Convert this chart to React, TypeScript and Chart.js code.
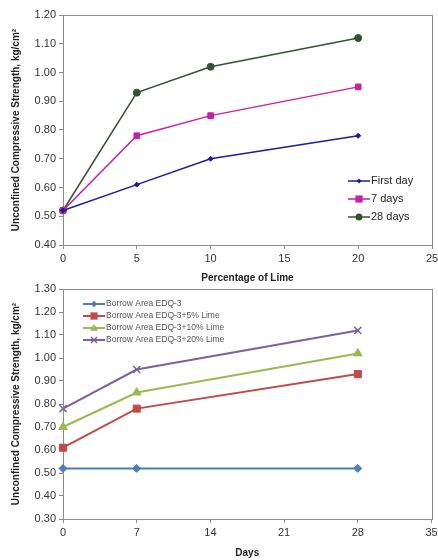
import React, { useEffect, useRef } from "react";
import { Chart, registerables } from "chart.js";
Chart.register(...registerables);

// Top chart data
const limePct = [0, 5, 10, 20];
const firstDay = [0.52, 0.61, 0.7, 0.78];
const sevenDays = [0.52, 0.78, 0.85, 0.95];
const twentyEightDays = [0.52, 0.93, 1.02, 1.12];
const topLabels = ["First day", "7 days", "28 days"];

// Bottom chart data
const days = [0, 7, 28];
const edq3 = [0.52, 0.52, 0.52];
const edq3Lime5 = [0.61, 0.78, 0.93];
const edq3Lime10 = [0.7, 0.85, 1.02];
const edq3Lime20 = [0.78, 0.95, 1.12];
const bottomLabels = [
  "Borrow Area EDQ-3",
  "Borrow Area EDQ-3+5% Lime",
  "Borrow Area EDQ-3+10% Lime",
  "Borrow Area EDQ-3+20% Lime",
];

const FONT = "'Liberation Sans', Arial, sans-serif";
const YTITLE = "Unconfined Compressive Strength, kg/cm\u00B2";

const pts = (xs: number[], ys: number[]) => xs.map((x, i) => ({ x, y: ys[i] }));

const borderPlugin = {
  id: "plotBorder",
  beforeDatasetsDraw(chart: any) {
    const { ctx, chartArea: a } = chart;
    ctx.save();
    ctx.strokeStyle = "#8c8c8c";
    ctx.lineWidth = 1;
    ctx.strokeRect(Math.round(a.left) + 0.5, Math.round(a.top) + 0.5, Math.round(a.right - a.left), Math.round(a.bottom - a.top));
    ctx.restore();
  },
};

function drawMarker(ctx: CanvasRenderingContext2D, style: string, x: number, y: number, r: number, color: string) {
  ctx.save();
  ctx.fillStyle = color;
  ctx.strokeStyle = color;
  ctx.lineWidth = 1.5;
  ctx.beginPath();
  if (style === "rectRot") {
    ctx.moveTo(x, y - r);
    ctx.lineTo(x + r, y);
    ctx.lineTo(x, y + r);
    ctx.lineTo(x - r, y);
    ctx.closePath();
    ctx.fill();
  } else if (style === "rect") {
    const s = r * 0.9;
    ctx.rect(x - s, y - s, 2 * s, 2 * s);
    ctx.fill();
  } else if (style === "circle") {
    ctx.arc(x, y, r, 0, Math.PI * 2);
    ctx.fill();
  } else if (style === "triangle") {
    ctx.moveTo(x, y - r);
    ctx.lineTo(x + r, y + r * 0.7);
    ctx.lineTo(x - r, y + r * 0.7);
    ctx.closePath();
    ctx.fill();
  } else if (style === "crossRot") {
    const s = r * 0.75;
    ctx.moveTo(x - s, y - s);
    ctx.lineTo(x + s, y + s);
    ctx.moveTo(x + s, y - s);
    ctx.lineTo(x - s, y + s);
    ctx.stroke();
  }
  ctx.restore();
}

function makeLegendPlugin(cfg: { x: number; y: number; dy: number; lineLen: number; font: string; color: string; textGap: number; markerScale: number }) {
  return {
    id: "customLegend",
    afterDraw(chart: any) {
      const { ctx } = chart;
      ctx.save();
      chart.data.datasets.forEach((ds: any, i: number) => {
        const y = cfg.y + i * cfg.dy;
        ctx.strokeStyle = ds.borderColor;
        ctx.lineWidth = ds.borderWidth;
        ctx.beginPath();
        ctx.moveTo(cfg.x, y);
        ctx.lineTo(cfg.x + cfg.lineLen, y);
        ctx.stroke();
        drawMarker(ctx, ds.pointStyle, cfg.x + cfg.lineLen / 2, y, ds.pointRadius * cfg.markerScale, ds.pointBackgroundColor);
        ctx.fillStyle = cfg.color;
        ctx.font = cfg.font;
        ctx.textBaseline = "middle";
        ctx.textAlign = "left";
        ctx.fillText(ds.label, cfg.x + cfg.lineLen + cfg.textGap, y);
      });
      ctx.restore();
    },
  };
}

function ds(label: string, xs: number[], ys: number[], color: string, style: string, radius: number, width: number) {
  return {
    label,
    data: pts(xs, ys),
    borderColor: color,
    backgroundColor: color,
    pointBackgroundColor: color,
    pointBorderColor: color,
    pointStyle: style,
    pointRadius: radius,
    pointBorderWidth: style === "crossRot" ? 1.5 : 1,
    borderWidth: width,
    tension: 0,
    clip: false,
  };
}

function axisOptions(opts: {
  xMax: number; xStep: number; xTitle: string; yMin: number; yMax: number;
  xHeight: number; xTitleBottom: number;
}) {
  return {
    x: {
      type: "linear",
      min: 0,
      max: opts.xMax,
      grid: { drawOnChartArea: false, drawTicks: true, tickLength: 4, color: "#8c8c8c" },
      border: { display: true, color: "#8c8c8c" },
      ticks: { stepSize: opts.xStep, color: "#333", font: { family: FONT, size: 11 }, padding: 3 },
      title: { display: true, text: opts.xTitle, color: "#222", font: { family: FONT, size: 10, weight: "bold" }, padding: { top: 6, bottom: opts.xTitleBottom } },
      afterFit(scale: any) {
        scale.height = opts.xHeight;
        scale.paddingLeft = 0;
        scale.paddingRight = 0;
      },
    },
    y: {
      type: "linear",
      min: opts.yMin,
      max: opts.yMax,
      grid: { drawOnChartArea: false, drawTicks: true, tickLength: 4, color: "#8c8c8c" },
      border: { display: true, color: "#8c8c8c" },
      ticks: {
        stepSize: 0.1,
        color: "#333",
        font: { family: FONT, size: 11 },
        padding: 3,
        callback: (v: any) => Number(v).toFixed(2),
      },
      title: { display: true, text: YTITLE, color: "#222", font: { family: FONT, size: 10, weight: "bold" }, padding: { top: 10, bottom: 4 } },
      afterFit(scale: any) {
        scale.width = 63;
        scale.paddingTop = 0;
        scale.paddingBottom = 0;
      },
    },
  };
}

function TopChart() {
  const ref = useRef<HTMLCanvasElement>(null);
  useEffect(() => {
    const chart = new Chart(ref.current!, {
      type: "line",
      data: {
        datasets: [
          ds(topLabels[0], limePct, firstDay, "#1c1c9c", "rectRot", 2.5, 1.5),
          ds(topLabels[1], limePct, sevenDays, "#c81ea8", "rect", 4, 1.5),
          ds(topLabels[2], limePct, twentyEightDays, "#2e5530", "circle", 3.5, 1.5),
        ] as any,
      },
      options: {
        animation: false,
        responsive: false,
        layout: { padding: { top: 15, right: 6, left: 0, bottom: 0 } },
        plugins: { legend: { display: false }, tooltip: { enabled: false } },
        scales: axisOptions({ xMax: 25, xStep: 5, xTitle: "Percentage of Lime", yMin: 0.4, yMax: 1.2, xHeight: 45, xTitleBottom: 6 }) as any,
      },
      plugins: [
        borderPlugin,
        makeLegendPlugin({ x: 348, y: 181, dy: 18, lineLen: 22, font: `11px ${FONT}`, color: "#222", textGap: 1, markerScale: 1 }),
      ],
    });
    return () => chart.destroy();
  }, []);
  return <canvas ref={ref} width={438} height={290} style={{ display: "block", position: "absolute", left: 0, top: 0 }} />;
}

function BottomChart() {
  const ref = useRef<HTMLCanvasElement>(null);
  useEffect(() => {
    const chart = new Chart(ref.current!, {
      type: "line",
      data: {
        datasets: [
          ds(bottomLabels[0], days, edq3, "#4a7ebb", "rectRot", 4, 2),
          ds(bottomLabels[1], days, edq3Lime5, "#be4b48", "rect", 5, 2),
          ds(bottomLabels[2], days, edq3Lime10, "#98b954", "triangle", 5, 2),
          ds(bottomLabels[3], days, edq3Lime20, "#7d60a0", "crossRot", 5, 2),
        ] as any,
      },
      options: {
        animation: false,
        responsive: false,
        layout: { padding: { top: 9, right: 6, left: 0, bottom: 0 } },
        plugins: { legend: { display: false }, tooltip: { enabled: false } },
        scales: axisOptions({ xMax: 35, xStep: 7, xTitle: "Days", yMin: 0.3, yMax: 1.3, xHeight: 41, xTitleBottom: 1 }) as any,
      },
      plugins: [
        borderPlugin,
        makeLegendPlugin({ x: 83, y: 24, dy: 12, lineLen: 22, font: `8.5px ${FONT}`, color: "#555", textGap: 1, markerScale: 0.8 }),
      ],
    });
    return () => chart.destroy();
  }, []);
  return <canvas ref={ref} width={438} height={280} style={{ display: "block", position: "absolute", left: 0, top: 280 }} />;
}

export default function App() {
  return (
    <div style={{ position: "absolute", left: 0, top: 0, width: 438, height: 560, background: "#fff" }}>
      <TopChart />
      <BottomChart />
    </div>
  );
}
